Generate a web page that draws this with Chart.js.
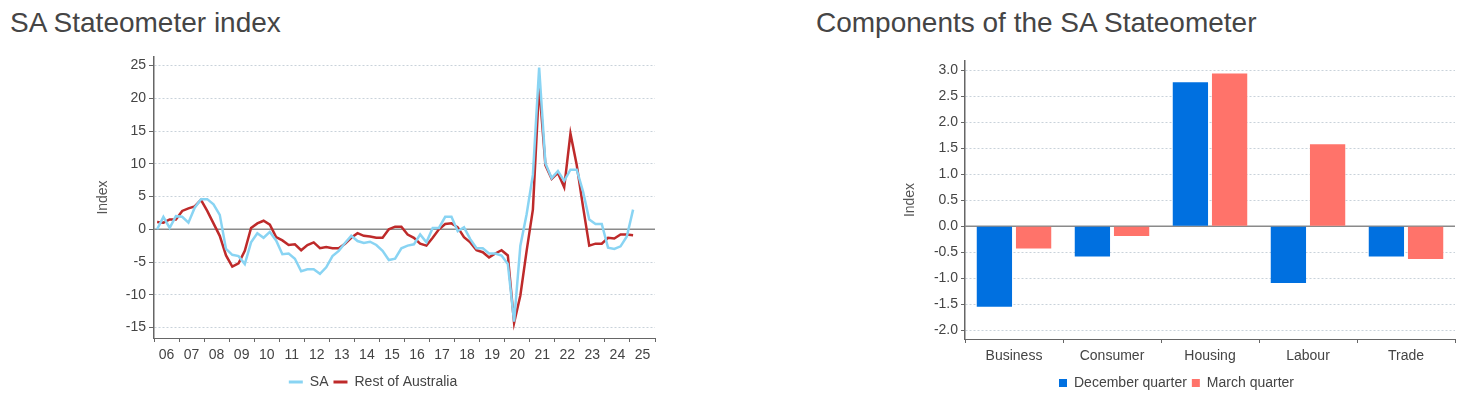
<!DOCTYPE html>
<html>
<head>
<meta charset="utf-8">
<script src="https://cdn.jsdelivr.net/npm/chart.js@4.4.0/dist/chart.umd.min.js"></script>
<style>
  html, body { margin: 0; padding: 0; background: #fff; }
  body { width: 1459px; height: 396px; position: relative; overflow: hidden; font-family: "Liberation Sans", Arial, sans-serif; }
  .title { position: absolute; top: 7px; font-size: 28px; color: #454545; white-space: nowrap; }
  .box { position: absolute; top: 45px; }
</style>
</head>
<body>
<div class="title" style="left:10px">SA Stateometer index</div>
<div class="title" style="left:816px">Components of the SA Stateometer</div>
<div class="box" style="left:0;width:700px;height:354px"><canvas id="left"></canvas></div>
<div class="box" style="left:760px;width:699px;height:355px"><canvas id="right"></canvas></div>
<script>
// ---------- Left chart data ----------
const startYear = 2006, endYear = 2025, endQuarter = 1;
const quarters = [];
for (let y = startYear; y <= endYear; y++) {
  for (let q = 1; q <= 4; q++) {
    if (y === endYear && q > endQuarter) break;
    quarters.push(y + 'Q' + q);
  }
}
const yearLabels = ['06','07','08','09','10','11','12','13','14','15','16','17','18','19','20','21','22','23','24','25'];
const saValues = [0,1.9,0.2,2.0,1.9,1.0,3.3,4.6,4.6,3.8,2.2,-3.0,-3.9,-4.1,-5.3,-2.0,-0.6,-1.3,-0.4,-1.7,
  -3.8,-3.7,-4.5,-6.4,-6.1,-6.1,-6.8,-5.8,-4.1,-3.3,-2.1,-1.0,-1.8,-2.1,-1.9,-2.4,-3.3,-4.7,-4.5,-2.9,
  -2.5,-2.3,-0.8,-2.0,0.2,0.2,1.9,1.9,-0.3,0.3,-1.5,-2.9,-2.9,-3.7,-3.7,-4.0,-5.3,-14.1,-2.5,2.3,
  8.3,24.7,10.1,7.8,8.9,7.4,9.1,9.1,5.8,1.5,0.8,0.8,-2.8,-3.0,-2.6,-1.1,3.0];
const restValues = [1.1,1.0,1.5,1.5,2.8,3.2,3.5,4.5,2.8,0.9,-1.0,-4.0,-5.7,-5.2,-3.3,0.2,0.9,1.3,0.7,-1.2,
  -1.7,-2.4,-2.3,-3.2,-2.4,-2.0,-2.9,-2.7,-2.9,-2.9,-2.2,-1.3,-0.6,-1.0,-1.1,-1.3,-1.3,0,0.4,0.4,
  -0.8,-1.3,-2.2,-2.5,-1.3,0,0.8,0.9,0.3,-1.2,-2.0,-3.2,-3.5,-4.3,-3.7,-3.2,-4.0,-14.3,-10.1,-3.3,
  3.0,22.0,9.8,7.7,8.6,6.4,14.6,9.8,3.5,-2.5,-2.2,-2.2,-1.3,-1.4,-0.8,-0.8,-0.9];
const leftTicks = [-15,-10,-5,0,5,10,15,20,25];

// ---------- Right chart data ----------
const components = ['Business','Consumer','Housing','Labour','Trade'];
const decValues = [-1.55,-0.58,2.77,-1.09,-0.58];
const marValues = [-0.43,-0.19,2.94,1.58,-0.63];
const rightTicks = [-2.0,-1.5,-1.0,-0.5,0.0,0.5,1.0,1.5,2.0,2.5,3.0];

// quarter label -> position on year axis (mid-quarter)
function qPos(label) {
  const y = parseInt(label.slice(0,4),10) - 2000;
  const q = parseInt(label.slice(5),10);
  return y + (q - 0.5) / 4;
}

const FONT = '"Liberation Sans", Arial, sans-serif';
Chart.defaults.font.family = FONT;
Chart.defaults.font.size = 14;
Chart.defaults.color = '#444';
Chart.defaults.animation = false;

const zeroLine = {
  id: 'zeroLine',
  beforeDatasetsDraw(chart) {
    const y = chart.scales.y.getPixelForValue(0);
    const {left, right} = chart.chartArea;
    const ctx = chart.ctx;
    ctx.save();
    ctx.strokeStyle = '#8a8a8a';
    ctx.lineWidth = 1.5;
    ctx.beginPath();
    ctx.moveTo(left, y);
    ctx.lineTo(right, y);
    ctx.stroke();
    ctx.restore();
  }
};

function fixedTicks(list) {
  return function(scale) { scale.ticks = list.map(v => ({value: v})); };
}

const gridColor = '#c9d2da';

new Chart(document.getElementById('left'), {
  type: 'line',
  data: {
    datasets: [
      { label: 'SA', data: quarters.map((q,i) => ({x: qPos(q), y: saValues[i]})),
        borderColor: '#89D4F3', backgroundColor: '#89D4F3', borderWidth: 2.5, pointRadius: 0, tension: 0 },
      { label: 'Rest of Australia', data: quarters.map((q,i) => ({x: qPos(q), y: restValues[i]})),
        borderColor: '#BE2A2A', backgroundColor: '#BE2A2A', borderWidth: 2.5, pointRadius: 0, tension: 0 }
    ]
  },
  options: {
    responsive: true, maintainAspectRatio: false,
    layout: { padding: { left: 91, right: 45, top: 12, bottom: 0 } },
    plugins: {
      legend: {
        position: 'bottom',
        labels: {
          boxWidth: 14, boxHeight: 3, padding: 5, color: '#444', font: { size: 14 },
          generateLabels(chart) {
            const items = Chart.defaults.plugins.legend.labels.generateLabels(chart);
            items.forEach(it => { it.lineWidth = 0; });
            return items;
          }
        }
      },
      tooltip: { enabled: false }
    },
    scales: {
      x: {
        type: 'linear', min: 6, max: 26,
        afterFit(scale) { scale.height = 32; },
        ticks: {
          stepSize: 1, autoSkip: false, maxRotation: 0, labelOffset: 12.5, padding: 5,
          color: '#444', font: { size: 14 },
          callback: (v) => { const i = Math.round(v) - 6; return yearLabels[i] !== undefined ? yearLabels[i] : ''; }
        },
        grid: { drawOnChartArea: false, drawTicks: true, tickLength: 4, tickColor: '#666', color: '#666' },
        border: { color: '#666', width: 1 }
      },
      y: {
        min: -16.6, max: 26.3,
        afterBuildTicks: fixedTicks(leftTicks),
        afterFit(scale) { scale.width = 63; },
        ticks: { color: '#444', font: { size: 14 }, padding: 3 },
        grid: { color: gridColor, tickColor: '#666', tickLength: 5, lineWidth: 1 },
        border: { color: '#666', width: 1.5, dash: [2, 2] },
        title: { display: true, text: 'Index', color: '#555', font: { size: 14 } }
      }
    }
  },
  plugins: [zeroLine]
});

new Chart(document.getElementById('right'), {
  type: 'bar',
  data: {
    labels: components,
    datasets: [
      { label: 'December quarter', data: decValues, backgroundColor: '#0070E0', borderWidth: 0 },
      { label: 'March quarter', data: marValues, backgroundColor: '#FF736A', borderWidth: 0 }
    ]
  },
  options: {
    responsive: true, maintainAspectRatio: false,
    layout: { padding: { left: 138, right: 4, top: 16, bottom: 0 } },
    plugins: {
      legend: {
        position: 'bottom',
        labels: { boxWidth: 8, boxHeight: 8, padding: 5, color: '#444', font: { size: 14 } }
      },
      tooltip: { enabled: false }
    },
    scales: {
      x: {
        afterFit(scale) { scale.height = 32; },
        ticks: { color: '#444', font: { size: 14 }, padding: 5, maxRotation: 0 },
        grid: { drawOnChartArea: false, drawTicks: true, tickLength: 4, tickColor: '#666', color: '#666', offset: true },
        border: { color: '#666', width: 1 }
      },
      y: {
        min: -2.17, max: 3.18,
        afterBuildTicks: fixedTicks(rightTicks),
        afterFit(scale) { scale.width = 67; },
        ticks: { color: '#444', font: { size: 14 }, padding: 3, callback: (v) => Number(v).toFixed(1) },
        grid: { color: gridColor, tickColor: '#666', tickLength: 4, lineWidth: 1 },
        border: { color: '#666', width: 1.5, dash: [2, 2] },
        title: { display: true, text: 'Index', color: '#555', font: { size: 14 } }
      }
    }
  },
  plugins: [zeroLine]
});
</script>
</body>
</html>
